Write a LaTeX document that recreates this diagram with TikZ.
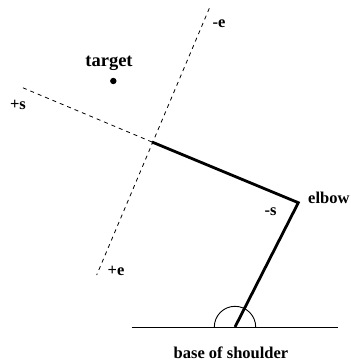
\documentclass[tikz,border=0pt]{standalone}
\usepackage{fontspec}
\setmainfont{Liberation Serif}
\begin{document}
\begin{tikzpicture}[x=1pt,y=-1pt,
  lbl/.style={font=\fontsize{16.5}{18}\selectfont\bfseries, inner sep=0pt, anchor=base},
  arm/.style={line width=2.8pt, line join=miter},
  guide/.style={line width=0.8pt, dash pattern=on 4pt off 4pt},
  thin/.style={line width=0.9pt}]
\useasboundingbox (0,0) rectangle (350,363);
% points
\coordinate (base) at (235,327);
\coordinate (elbow) at (298.3,202.7);
\coordinate (hand) at (152,142);
\coordinate (splus) at (21.7,87.3);
\coordinate (eminus) at (209.3,8.3);
\coordinate (eplus) at (96.7,275);
\coordinate (gl) at (131.7,327);
\coordinate (gr) at (338,327);
% ground and angle arc
\draw[thin] (gl) -- (gr);
\draw[thin] ([xshift=-20.7pt]base) arc[start angle=180, end angle=360, radius=20.7];
% guides
\draw[guide] (hand) -- (splus);
\draw[guide] (eminus) -- (eplus);
% arm
\draw[arm] (base) -- (elbow) -- (hand);
% target
\fill (113.3,81) circle[radius=3.2];
\node[lbl] (tgt) at (109,66.5) {\fontsize{18.5}{20}\selectfont target};
\node[lbl] (ls) at (18,110) {+s};
\node[lbl] (le) at (219,27.3) {-e};
\node[lbl] (lpe) at (116,275.7) {+e};
\node[lbl] (lms) at (270.7,215) {-s};
\node[lbl, anchor=base west] (lelb) at (308,203) {elbow};
\node[lbl] (lbase) at (231,358) {base of shoulder};
\end{tikzpicture}
\end{document}
